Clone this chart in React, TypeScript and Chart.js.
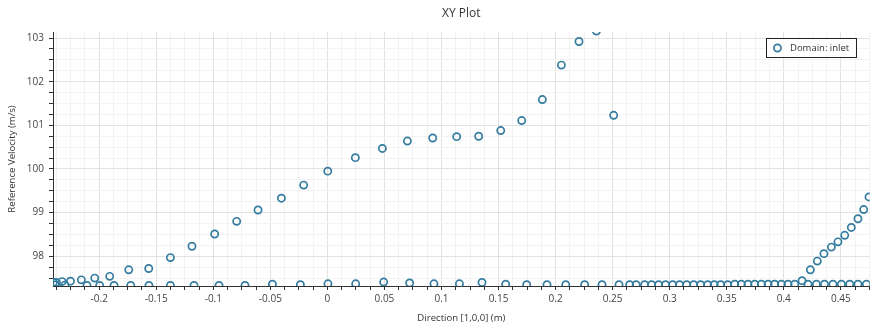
import React, { useEffect, useRef } from "react";
import { Chart, registerables } from "chart.js";

Chart.register(...registerables);

const chartTitle = "XY Plot";
const seriesLabel = "Domain: inlet";
const xAxisTitle = "Direction [1,0,0] (m)";
const yAxisTitle = "Reference Velocity (m/s)";

// axis ranges and tick steps
const xRange = [-0.2405, 0.4753];
const yRange = [97.319, 103.138];
const xSteps = [0.0125, 0.05]; // minor, major
const ySteps = [0.25, 1]; // minor, major

// rising branch
const upperX = [
  -0.2402, -0.2375, -0.2326, -0.2252, -0.2156, -0.2039, -0.1908, -0.1741, -0.1566,
  -0.1376, -0.1187, -0.0988, -0.0795, -0.0608, -0.0403, -0.0208, 0.0003, 0.0245,
  0.0482, 0.0701, 0.0923, 0.1133, 0.1326, 0.1519, 0.1703, 0.1884, 0.2051, 0.2205,
  0.2358, 0.2509, 0.416, 0.4233, 0.4294, 0.4352, 0.4417, 0.4475, 0.4534, 0.4592,
  0.465, 0.47, 0.4747,
];
const upperY = [
  97.4, 97.4, 97.42, 97.43, 97.46, 97.5, 97.54, 97.69, 97.72,
  97.97, 98.23, 98.51, 98.8, 99.06, 99.33, 99.63, 99.95, 100.26,
  100.47, 100.64, 100.71, 100.74, 100.75, 100.88, 101.11, 101.59, 102.38, 102.92,
  103.16, 101.23, 97.44, 97.69, 97.89, 98.06, 98.21, 98.33, 98.48, 98.66,
  98.86, 99.07, 99.36,
];

// flat branch along the bottom
const lowerX = [
  -0.2385, -0.23, -0.2107, -0.1996, -0.187, -0.1724, -0.1564, -0.1376, -0.1169,
  -0.095, -0.0722, -0.0482, -0.0237, 0.0005, 0.0248, 0.0493, 0.0721, 0.0934,
  0.1157, 0.1355, 0.1563, 0.1747, 0.1925, 0.2089, 0.2255, 0.2407, 0.2556, 0.2649,
  0.2706, 0.278, 0.2841, 0.2903, 0.2964, 0.3026, 0.3087, 0.3149, 0.321, 0.3271,
  0.3333, 0.339, 0.3447, 0.3508, 0.357, 0.3628, 0.3686, 0.3745, 0.3804, 0.3862,
  0.392, 0.3979, 0.4037, 0.4096, 0.4212, 0.4286, 0.4357, 0.4431, 0.4505, 0.4578,
  0.465, 0.4724,
];
const lowerY = [
  97.34, 97.34, 97.33, 97.33, 97.33, 97.33, 97.33, 97.33, 97.33,
  97.33, 97.33, 97.36, 97.35, 97.37, 97.37, 97.41, 97.39, 97.37,
  97.37, 97.4, 97.36, 97.35, 97.35, 97.35, 97.35, 97.35, 97.35, 97.35,
  97.35, 97.35, 97.35, 97.35, 97.35, 97.35, 97.35, 97.35, 97.35, 97.35,
  97.35, 97.35, 97.35, 97.35, 97.36, 97.36, 97.36, 97.36, 97.36, 97.36,
  97.36, 97.36, 97.36, 97.36, 97.36, 97.36, 97.36, 97.36, 97.36, 97.36,
  97.36, 97.36,
];

const markerColor = "rgb(52,124,160)";
const majorGrid = "rgb(226,226,226)";
const minorGrid = "rgb(243,243,243)";
const axisColor = "#333";
const textColor = "#444";
const FONT = "'Open Sans', 'Noto Sans', sans-serif";

const isMajor = (v: number, step: number) =>
  Math.abs(v / step - Math.round(v / step)) < 1e-6;
const fmt = (v: number) => String(parseFloat(Number(v).toFixed(4)));

const boxedLegend = {
  id: "boxedLegend",
  afterDraw(chart: any) {
    const { ctx, chartArea } = chart;
    const label = chart.data.datasets[0].label as string;
    ctx.save();
    ctx.font = `9.5px ${FONT}`;
    const tw = ctx.measureText(label).width;
    const w = Math.round(24 + tw + 8);
    const h = 20;
    const right = Math.round(chartArea.right - 13);
    const left = right - w;
    const top = Math.round(chartArea.top + 6);
    ctx.fillStyle = "#fff";
    ctx.fillRect(left, top, w, h);
    ctx.strokeStyle = "#222";
    ctx.lineWidth = 1;
    ctx.strokeRect(left + 0.5, top + 0.5, w - 1, h - 1);
    ctx.beginPath();
    ctx.arc(left + 11.5, top + h / 2, 3.6, 0, Math.PI * 2);
    ctx.strokeStyle = markerColor;
    ctx.lineWidth = 1.7;
    ctx.stroke();
    ctx.fillStyle = "#333";
    ctx.textBaseline = "middle";
    ctx.textAlign = "left";
    ctx.fillText(label, left + 24, top + h / 2 + 0.5);
    ctx.restore();
  },
};

export default function App() {
  const canvasRef = useRef<HTMLCanvasElement | null>(null);

  useEffect(() => {
    if (!canvasRef.current) return;
    Chart.defaults.font.family = FONT;
    const points = [
      ...upperX.map((x, i) => ({ x, y: upperY[i] })),
      ...lowerX.map((x, i) => ({ x, y: lowerY[i] })),
    ];
    const chart = new Chart(canvasRef.current, {
      type: "scatter",
      data: {
        datasets: [
          {
            label: seriesLabel,
            data: points,
            borderColor: markerColor,
            backgroundColor: "rgba(0,0,0,0)",
            pointRadius: 3.6,
            pointBorderWidth: 1.7,
            pointHoverRadius: 3.6,
            clip: 0,
          } as any,
        ],
      },
      options: {
        animation: false,
        responsive: false,
        devicePixelRatio: 1,
        layout: { padding: 0 },
        plugins: {
          legend: { display: false },
          tooltip: { enabled: false },
          title: {
            display: true,
            fullSize: false,
            text: chartTitle,
            color: "#333",
            font: { size: 12, weight: "normal" as any, family: FONT },
            padding: { top: 6.8, bottom: 10.8 },
          },
        },
        scales: {
          x: {
            type: "linear",
            min: xRange[0],
            max: xRange[1],
            afterFit: (s: any) => {
              s.height = 45;
              s.paddingLeft = 0;
              s.paddingRight = 0;
            },
            ticks: {
              stepSize: xSteps[0],
              autoSkip: false,
              maxRotation: 0,
              minRotation: 0,
              includeBounds: false,
              padding: 3,
              color: textColor,
              font: { size: 10 },
              callback: (v: any) => (isMajor(Number(v), xSteps[1]) ? fmt(Number(v)) : ""),
            },
            grid: {
              color: (c: any) =>
                c.tick && isMajor(c.tick.value, xSteps[1]) ? majorGrid : minorGrid,
              tickColor: axisColor,
              tickLength: 4,
              lineWidth: 1,
            },
            border: { color: axisColor, width: 1 },
            title: {
              display: true,
              text: xAxisTitle,
              color: "#333",
              font: { size: 9.6 },
              padding: { top: 0, bottom: 7 },
            },
          },
          y: {
            type: "linear",
            min: yRange[0],
            max: yRange[1],
            afterFit: (s: any) => {
              s.width = 53;
            },
            ticks: {
              stepSize: ySteps[0],
              autoSkip: false,
              includeBounds: false,
              padding: 5,
              color: textColor,
              font: { size: 10 },
              callback: (v: any) => (isMajor(Number(v), ySteps[1]) ? fmt(Number(v)) : ""),
            },
            grid: {
              color: (c: any) =>
                c.tick && isMajor(c.tick.value, ySteps[1]) ? majorGrid : minorGrid,
              tickColor: axisColor,
              tickLength: 4,
              lineWidth: 1,
            },
            border: { color: axisColor, width: 1 },
            title: {
              display: true,
              text: yAxisTitle,
              color: "#333",
              font: { size: 9.6 },
              padding: { top: 7, bottom: 0 },
            },
          },
        },
      },
      plugins: [boxedLegend],
    });
    return () => chart.destroy();
  }, []);

  return (
    <div
      style={{
        position: "fixed",
        left: 0,
        top: 0,
        width: 870,
        height: 331,
        overflow: "hidden",
        background: "#fff",
      }}
    >
      <canvas ref={canvasRef} width={875} height={331} style={{ display: "block" }} />
    </div>
  );
}
